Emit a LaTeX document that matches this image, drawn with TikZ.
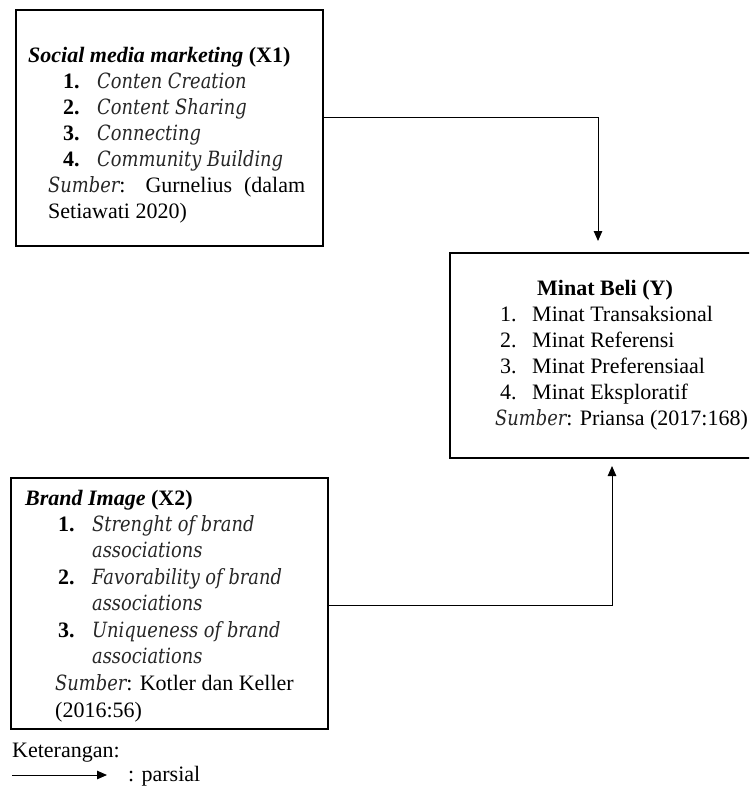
\documentclass[tikz,border=0pt]{standalone}
\usepackage{fontspec}
\setmainfont{Liberation Serif}
\newfontfamily\slab[FakeStretch=0.85]{DejaVu Serif}
\newcommand\slabit{\slab\itshape\fontsize{21}{26}\selectfont\color{black!85}}
\usetikzlibrary{arrows.meta}
\begin{document}
\begin{tikzpicture}[x=1pt,y=-1pt,
  box/.style={draw, line width=2pt, inner sep=0pt, anchor=north west},
  conn/.style={line width=1pt, -{Triangle[length=10pt,width=8.5pt]}},
  txt/.style={anchor=base west, inner sep=0pt, font=\fontsize{22}{26}\selectfont},
  num/.style={txt, font=\fontsize{22}{26}\selectfont\bfseries}]
\useasboundingbox (0,0) rectangle (749,789);
\clip (0,0) rectangle (749,789);
% boxes
\node[box, minimum width=307pt, minimum height=236pt] (x1) at (15,9) {};
\node[box, minimum width=320pt, minimum height=205pt] (y) at (449,252) {};
\node[box, minimum width=317pt, minimum height=251pt] (x2) at (10,477) {};
% X1 text
\node[txt] (x1t) at (28,63) {\bfseries\itshape Social media marketing \upshape(X1)};
\node[num] (x1n1) at (63,89) {1.};
\node[txt] (x1i1) at (97,89) {\slabit Conten Creation};
\node[num] (x1n2) at (63,114) {2.};
\node[txt] (x1i2) at (97,114) {\slabit Content Sharing};
\node[num] (x1n3) at (63,140) {3.};
\node[txt] (x1i3) at (97,140) {\slabit Connecting};
\node[num] (x1n4) at (63,166) {4.};
\node[txt] (x1i4) at (97,166) {\slabit Community Building};
\node[txt] (x1s1) at (48,192) {\makebox[257pt][s]{{\slabit Sumber}: Gurnelius (dalam}};
\node[txt] (x1s2) at (48,218) {Setiawati 2020)};
% Y text
\node[txt, anchor=base] (yt) at (605,295) {\bfseries Minat Beli (Y)};
\node[txt] (yn1) at (500,321) {1.};
\node[txt] (yi1) at (532,321) {Minat Transaksional};
\node[txt] (yn2) at (500,347) {2.};
\node[txt] (yi2) at (532,347) {Minat Referensi};
\node[txt] (yn3) at (500,373) {3.};
\node[txt] (yi3) at (532,373) {Minat Preferensiaal};
\node[txt] (yn4) at (500,399) {4.};
\node[txt] (yi4) at (532,399) {Minat Eksploratif};
\node[txt] (ys) at (495,425) {{\slabit Sumber}: Priansa (2017:168)};
% X2 text
\node[txt] (x2t) at (25,505) {\bfseries\itshape Brand Image \upshape(X2)};
\node[num] (x2n1) at (58,531) {1.};
\node[txt] (x2i1) at (92,531) {\slabit Strenght of brand};
\node[txt] (x2i1b) at (92,557) {\slabit associations};
\node[num] (x2n2) at (58,584) {2.};
\node[txt] (x2i2) at (92,584) {\slabit Favorability of brand};
\node[txt] (x2i2b) at (92,610) {\slabit associations};
\node[num] (x2n3) at (58,637) {3.};
\node[txt] (x2i3) at (92,637) {\slabit Uniqueness of brand};
\node[txt] (x2i3b) at (92,663) {\slabit associations};
\node[txt] (x2s1) at (55,690) {{\slabit Sumber}: Kotler dan Keller};
\node[txt] (x2s2) at (55,717) {(2016:56)};
% connectors
\coordinate (tip1) at (598,241);
\coordinate (tip2) at (612,466);
\draw[conn] (x1.east |- 0,118) -| (tip1);
\draw[conn] (x2.east |- 0,605) -| (tip2);
% legend
\node[txt] (ket) at (12,757) {Keterangan:};
\coordinate (l1) at (12,775);
\coordinate (l2) at (107,775);
\draw[conn] (l1) -- (l2);
\node[txt] (par) at (128,781) {: parsial};
\end{tikzpicture}
\end{document}
